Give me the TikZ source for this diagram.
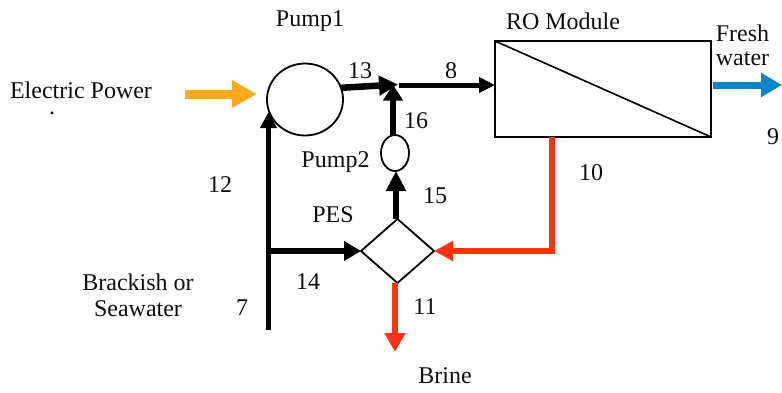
\documentclass[tikz,border=0pt]{standalone}
\usepackage{fontspec}
\setmainfont{Liberation Serif}
\usetikzlibrary{arrows.meta,shapes.geometric}
\definecolor{powerorange}{HTML}{FFAA1E}
\definecolor{brinered}{HTML}{FF3310}
\definecolor{freshblue}{HTML}{0A85CC}
\tikzset{
  lbl/.style={inner sep=0pt,outer sep=0pt,font=\fontsize{24}{26}\selectfont,text=black!95},
  unit/.style={draw=black,line width=1.8pt,inner sep=0pt,outer sep=0pt},
}
\begin{document}
\begin{tikzpicture}[x=1pt,y=-1pt]
\useasboundingbox (0,0) rectangle (782,392);
% units
\node[unit,ellipse,minimum width=76pt,minimum height=72pt] (pump1) at (305,99.5) {};
\node[unit,ellipse,minimum width=28pt,minimum height=36pt] (pump2) at (395,153) {};
\node[unit,rectangle,minimum width=216pt,minimum height=96pt] (ro) at (603,89) {};
\draw[line width=1.6pt] (ro.north west) -- (ro.south east);
\node[unit,diamond,aspect=1.14,minimum width=73pt,minimum height=64pt] (pes) at (397.5,251) {};
% free ends and junctions
\coordinate (power) at (185,94);
\coordinate (powertip) at (257,94);
\coordinate (feed) at (268.5,330);
\coordinate (tee) at (268.5,251);
\coordinate (p1in) at (268.5,112);
\coordinate (mix) at (398,84.5);
\coordinate (mixout) at (399,85);
\coordinate (p2out) at (393,135);
\coordinate (pesup) at (396,219);
\coordinate (freshstart) at (713,85);
\coordinate (freshend) at (782,85);
\coordinate (roout) at (552,137);
\coordinate (corner) at (552,251);
\coordinate (brine) at (395,352);
% arrows
\draw[powerorange,line width=9pt,-{Triangle[length=25pt,width=26pt]}] (power) -- (powertip);
\draw[line width=5.5pt,-{Triangle[length=16pt,width=16pt]}] (feed) -- (p1in);
\draw[line width=6pt,-{Triangle[length=17pt,width=19pt]}] (tee) -- (pes.west);
\draw[line width=6.5pt,-{Triangle[length=19pt,width=19pt]}] (pump1.18) -- (mix);
\draw[line width=5pt,-{Triangle[length=16pt,width=15pt]}] (mixout) -- (ro.west |- mixout);
\draw[line width=6pt,-{Triangle[length=16pt,width=19pt]}] (p2out) -- (p2out |- mix);
\draw[line width=6pt,-{Triangle[length=20pt,width=19pt]}] (pesup) -- (pesup |- pump2.south);
\draw[brinered,line width=6pt,line join=miter,-{Triangle[length=19pt,width=19pt]}] (roout) -- (corner) -- (pes.east);
\draw[brinered,line width=6pt,-{Triangle[length=19pt,width=20pt]}] (brine |- pes.south) -- (brine);
\draw[freshblue,line width=7pt,-{Triangle[length=21pt,width=23pt]}] (freshstart) -- (freshend);
% labels
\node[lbl] (tpower) at (81,90) {Electric Power};
\node[lbl] (tdot) at (52,113) {.};
\node[lbl] (tp1) at (310,21) {Pump1};
\node[lbl] (tro) at (563,21) {RO Module};
\node[lbl] (tfresh) at (742.5,33) {Fresh};
\node[lbl] (twater) at (742.5,59) {water};
\node[lbl] (t9) at (773,137) {9};
\node[lbl] (t13) at (360,71) {13};
\node[lbl] (t8) at (451,71) {8};
\node[lbl] (t16) at (416,121) {16};
\node[lbl] (tp2) at (335.5,162) {Pump2};
\node[lbl] (t15) at (435,196) {15};
\node[lbl] (tpes) at (333,215) {PES};
\node[lbl] (t12) at (220,185) {12};
\node[lbl] (t10) at (591,173) {10};
\node[lbl] (t14) at (308,282) {14};
\node[lbl] (t11) at (425,307) {11};
\node[lbl] (t7) at (242,308) {7};
\node[lbl] (tbr) at (138,282) {Brackish or};
\node[lbl] (tsea) at (138,309) {Seawater};
\node[lbl] (tbrine) at (445,376) {Brine};
\end{tikzpicture}
\end{document}
